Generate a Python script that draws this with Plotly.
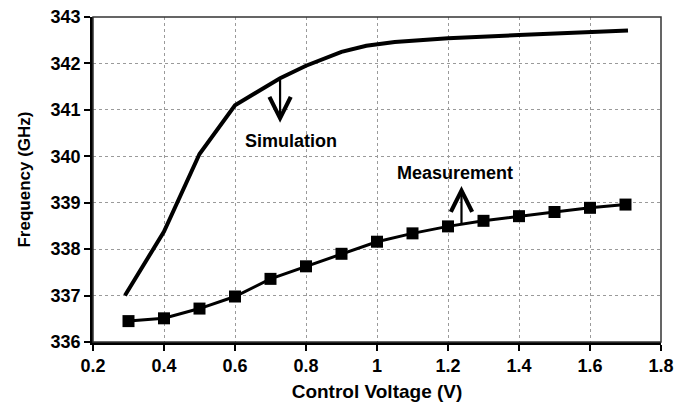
import plotly.graph_objects as go

sim_v = [0.29, 0.4, 0.5, 0.6, 0.727, 0.8, 0.9, 0.97, 1.05, 1.2, 1.4, 1.5, 1.6, 1.707]
sim_f = [337.0, 338.38, 340.05, 341.1, 341.68, 341.95, 342.25, 342.38, 342.46, 342.54, 342.61, 342.64, 342.69, 342.71]

meas_v = [0.3, 0.4, 0.5, 0.6, 0.7, 0.8, 0.9, 1.0, 1.1, 1.2, 1.3, 1.4, 1.5, 1.6, 1.7]
meas_f = [336.45, 336.51, 336.72, 336.98, 337.36, 337.63, 337.90, 338.16, 338.34, 338.49, 338.61, 338.71, 338.80, 338.89, 338.96]

x_ticks = [0.2, 0.4, 0.6, 0.8, 1.0, 1.2, 1.4, 1.6, 1.8]
x_tick_text = ["0.2", "0.4", "0.6", "0.8", "1", "1.2", "1.4", "1.6", "1.8"]
y_ticks = [336, 337, 338, 339, 340, 341, 342, 343]
y_tick_text = ["336", "337", "338", "339", "340", "341", "342", "343"]

FONT = "Liberation Sans, Arial, sans-serif"

fig = go.Figure()
fig.add_trace(go.Scatter(x=sim_v, y=sim_f, mode="lines",
                         line=dict(color="black", width=4), name="Simulation"))
fig.add_trace(go.Scatter(x=meas_v, y=meas_f, mode="lines+markers",
                         line=dict(color="black", width=3),
                         marker=dict(symbol="square", size=12, color="black"),
                         name="Measurement"))

fig.add_shape(type="rect", xref="x domain", yref="y domain", x0=0, x1=1, y0=0, y1=1,
              line=dict(color="#333", width=1.5), layer="above")

fig.add_annotation(x=0.727, y=340.72, ax=0.727, ay=341.68, xref="x", yref="y",
                   axref="x", ayref="y", text="", showarrow=True,
                   arrowhead=5, arrowsize=1.9, arrowwidth=2.2, arrowcolor="black")
fig.add_annotation(x=0.757, y=340.32, text="<b>Simulation</b>", showarrow=False,
                   font=dict(family=FONT, size=18, color="black"))
fig.add_annotation(x=1.238, y=339.36, ax=1.238, ay=338.52, xref="x", yref="y",
                   axref="x", ayref="y", text="", showarrow=True,
                   arrowhead=5, arrowsize=1.9, arrowwidth=2.2, arrowcolor="black")
fig.add_annotation(x=1.22, y=339.64, text="<b>Measurement</b>", showarrow=False,
                   font=dict(family=FONT, size=18, color="black"))

tickfont = dict(family=FONT, size=18, color="black")

fig.update_layout(
    width=687, height=403,
    margin=dict(l=93, r=26, t=17, b=61),
    paper_bgcolor="white", plot_bgcolor="white",
    showlegend=False,
    font=dict(family=FONT, color="black"),
    xaxis=dict(range=[0.2, 1.8], tickvals=x_ticks,
               ticktext=["<b>%s</b>" % t for t in x_tick_text],
               showline=True, linecolor="black", linewidth=2.5,
               ticks="outside", ticklen=6, tickwidth=2, tickcolor="black",
               showgrid=True, gridcolor="#9a9a9a", griddash="dot", gridwidth=1,
               zeroline=False, tickfont=tickfont, automargin=False,
               title=dict(text="<b>Control Voltage (V)</b>", standoff=10,
                          font=dict(family=FONT, size=19, color="black"))),
    yaxis=dict(range=[336, 343], tickvals=y_ticks,
               ticktext=["<b>%s</b>" % t for t in y_tick_text],
               showline=True, linecolor="black", linewidth=2.5,
               ticks="outside", ticklen=6, tickwidth=2, tickcolor="black",
               showgrid=True, gridcolor="#9a9a9a", griddash="dot", gridwidth=1,
               zeroline=False, tickfont=tickfont, automargin=False,
               title=dict(text="<b>Frequency (GHz)</b>", standoff=16,
                          font=dict(family=FONT, size=17, color="black"))),
)

fig.write_html("out.html")
